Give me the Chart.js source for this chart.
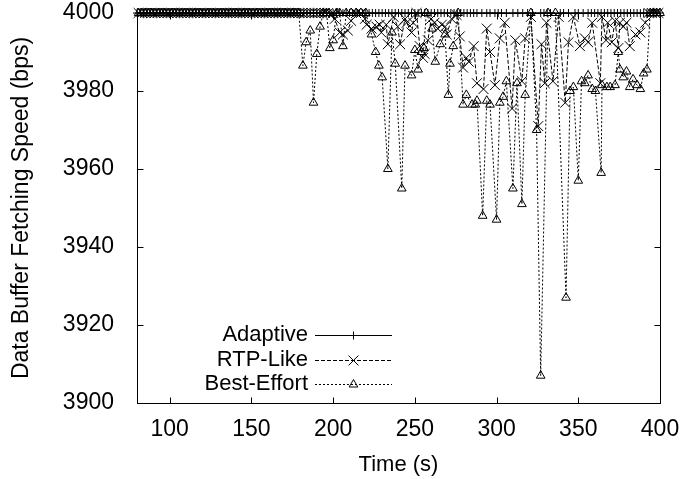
<!DOCTYPE html>
<html>
<head>
<meta charset="utf-8">
<title>Data Buffer Fetching Speed</title>
<script src="https://cdn.jsdelivr.net/npm/chart.js@4.4.1/dist/chart.umd.min.js"></script>
<style>
body{margin:0;background:#fff;}
#wrap{width:684px;height:479px;}
</style>
</head>
<body>
<div id="wrap"><canvas id="myChart" width="684" height="479"></canvas></div>
<script>
// tick labels
var xTicks = [100, 150, 200, 250, 300, 350, 400];
var yTicks = [3900, 3920, 3940, 3960, 3980, 4000];

var seriesNames = ["Adaptive", "RTP-Like", "Best-Effort"];

// Adaptive: stays at 4000 the whole run
var adaptiveTime = [
    80,82,84,86,88,90,92,94,96,98,
    100,102,104,106,108,110,112,114,116,118,
    120,122,124,126,128,130,132,134,136,138,
    140,142,144,146,148,150,152,154,156,158,
    160,162,164,166,168,170,172,174,176,178,
    180,182,184,186,188,190,192,194,196,198,
    200,202,204,206,208,210,212,214,216,218,
    220,222,224,226,228,230,232,234,236,238,
    240,242,244,246,248,250,252,254,256,258,
    260,262,264,266,268,270,272,274,276,278,
    280,282,284,286,288,291,294,296,299,301,
    303,306,310,313,316,319,322,327,329,331,
    333,339,341,344,348,350,353,356,358,360,
    362,364,366,368,370,372,374,376,378,380,
    382,384,386,388,390,392,394,396,398,400
];
var adaptiveSpeed = [
    4000,4000,4000,4000,4000,4000,4000,4000,4000,4000,
    4000,4000,4000,4000,4000,4000,4000,4000,4000,4000,
    4000,4000,4000,4000,4000,4000,4000,4000,4000,4000,
    4000,4000,4000,4000,4000,4000,4000,4000,4000,4000,
    4000,4000,4000,4000,4000,4000,4000,4000,4000,4000,
    4000,4000,4000,4000,4000,4000,4000,4000,4000,4000,
    4000,4000,4000,4000,4000,4000,4000,4000,4000,4000,
    4000,4000,4000,4000,4000,4000,4000,4000,4000,4000,
    4000,4000,4000,4000,4000,4000,4000,4000,4000,4000,
    4000,4000,4000,4000,4000,4000,4000,4000,4000,4000,
    4000,4000,4000,4000,4000,4000,4000,4000,4000,4000,
    4000,4000,4000,4000,4000,4000,4000,4000,4000,4000,
    4000,4000,4000,4000,4000,4000,4000,4000,4000,4000,
    4000,4000,4000,4000,4000,4000,4000,4000,4000,4000,
    4000,4000,4000,4000,4000,4000,4000,4000,4000,4000
];

// RTP-Like
var rtpTime = [
    81,83,85,87,89,91,93,95,97,99,
    101,103,105,107,109,111,113,115,117,119,
    121,123,125,127,129,131,133,135,137,139,
    141,143,145,147,149,151,153,155,157,159,
    161,163,165,167,169,171,173,175,177,179,
    181,183,185,187,189,191,193,195,197,
    200,201,204,206,209,211,214,217,219.5,220.5,
    223.5,226.5,228.5,229.5,232.5,233.5,237,239.5,241,244,
    245,248,249,251,253,255,256,258,260,262,
    264,266.5,268.5,269.5,272.5,275.5,277.5,279.5,281.5,283,
    286,288,292,294,296,299,302,305,309.5,311.5,
    315.5,317.5,321,325.5,327.5,329.5,330.5,334.5,338,342,
    344,347,351,354,356,358.5,363.5,364.5,367,368,
    370.5,372.5,374.5,375.5,377.5,379.5,381.5,385,388,391,
    393,395,397,399
];
var rtpSpeed = [
    4000,4000,4000,4000,4000,4000,4000,4000,4000,4000,
    4000,4000,4000,4000,4000,4000,4000,4000,4000,4000,
    4000,4000,4000,4000,4000,4000,4000,4000,4000,4000,
    4000,4000,4000,4000,4000,4000,4000,4000,4000,4000,
    4000,4000,4000,4000,4000,4000,4000,4000,4000,4000,
    4000,4000,4000,4000,4000,4000,4000,4000,4000,
    4000,3998.5,3995,3994.5,3995.5,3998,4000,4000,3998.5,3997,
    3996,3996.5,3997,3995,3997,3992,3999,3996.5,3992,3998.5,
    3997.5,3995,3997.5,4000,3991.5,3988.5,3989.5,3993,3998.5,3997.5,
    3996,3997,3996.5,3994.5,3998.5,3999.5,3994,3986,3988.5,3987.5,
    3991.5,3982,3980.5,3996,3990,3981.5,3993.5,3997.5,3975.5,3993,
    3982.5,3993.5,3999,3971,3992,3982,3997.5,3982.5,3999,3977,
    3992.5,3999,3991.5,3993.5,3992.5,3997.5,3982,3999,3993,3997.5,
    3992.5,3998,3991,3997.5,3996.5,3997.5,3991.5,3994.5,3995,3997.5,
    4000,4000,4000,4000
];

// Best-Effort
var bestTime = [
    81,83,85,87,89,91,93,95,97,99,
    101,103,105,107,109,111,113,115,117,119,
    121,123,125,127,129,131,133,135,137,139,
    141,143,145,147,149,151,153,155,157,159,
    161,163,165,167,169,171,173,175,177,179,
    181.5,183.5,186,188,190,192,194,196,198,200,
    202,204,206,208,211,214,217,220,223.5,226,
    228,230,233.5,236,238,242,244,248,250,252,
    254,255.5,257,260.5,262.5,265.5,268.5,270.5,271.5,273.5,
    276.5,279.5,281.5,285,287,288,291.5,294,296,300,
    302,304,306,310,312.5,315.5,317.5,321,324.5,327,
    331.5,336,342.5,345,347,350,352,354,356,358.5,
    360.5,364,364.5,367.5,369.5,372.5,374.5,375.5,377.5,379.5,
    381.5,383.5,386,388,390,392,394,396,398,400
];
var bestSpeed = [
    4000,4000,4000,4000,4000,4000,4000,4000,4000,4000,
    4000,4000,4000,4000,4000,4000,4000,4000,4000,4000,
    4000,4000,4000,4000,4000,4000,4000,4000,4000,4000,
    4000,4000,4000,4000,4000,4000,4000,4000,4000,4000,
    4000,4000,4000,4000,4000,4000,4000,4000,4000,4000,
    3986.5,3992.5,3995.5,3977,3989.5,3996.5,4000,4000,3991,3993,
    4000,4000,3991.5,4000,4000,4000,4000,4000,3994.5,3990,
    3986.5,3983.5,3960,3995,3987,3955,3986.5,3984,3990.5,3985.5,
    3990,3991,4000,3996,3987.5,3992,3994.5,3979,3987,3991.5,
    4000,3976.5,3979,3976.5,3976.5,3977.5,3948,3977.5,3976.5,3947,
    3977,3978.5,3982.5,3955,3982,3951,3979,4000,3970,3907,
    4000,4000,3927,3980,3981,3957,3982.5,3982,3984,3980.5,
    3980,3959,3981.5,3981,3981,3981.5,3990,3985.5,3983.5,3985,
    3981,3983,3981.5,3980.5,3984.5,3985.5,4000,4000,4000,4000
];

function toPoints(times, speeds){
    var pts = [];
    for (var i = 0; i < times.length; i++) {
        pts.push({x: times[i], y: speeds[i]});
    }
    return pts;
}

var FONT = '"Liberation Sans", Arial, Helvetica, sans-serif';
Chart.defaults.font.family = FONT;
Chart.defaults.color = '#000';

// gnuplot style border with inward ticks on all four sides
var frame = {
    id: 'frame',
    beforeDatasetsDraw: function(chart){
        var ctx = chart.ctx, a = chart.chartArea;
        var sx = chart.scales.x, sy = chart.scales.y;
        var L = Math.round(a.left) + 0.5, R = Math.round(a.right) + 0.5;
        var T = Math.round(a.top) + 0.5, B = Math.round(a.bottom) + 0.5;
        ctx.save();
        ctx.strokeStyle = '#000';
        ctx.lineWidth = 1;
        ctx.strokeRect(L, T, R - L, B - T);
        ctx.beginPath();
        xTicks.forEach(function(v){
            var px = Math.round(sx.getPixelForValue(v)) + 0.5;
            ctx.moveTo(px, B); ctx.lineTo(px, B - 6);
            ctx.moveTo(px, T); ctx.lineTo(px, T + 6);
        });
        yTicks.forEach(function(v){
            var py = Math.round(sy.getPixelForValue(v)) + 0.5;
            ctx.moveTo(L, py); ctx.lineTo(L + 6, py);
            ctx.moveTo(R, py); ctx.lineTo(R - 6, py);
        });
        ctx.stroke();
        ctx.restore();
    }
};

// key inside the plot, text on the left, sample on the right
var key = {
    id: 'key',
    afterDraw: function(chart){
        var ctx = chart.ctx;
        ctx.save();
        ctx.font = '22px ' + FONT;
        ctx.textAlign = 'right';
        ctx.textBaseline = 'middle';
        ctx.strokeStyle = '#000';
        ctx.lineWidth = 1;
        chart.data.datasets.forEach(function(ds, i){
            var rowY = 335 + i * 24.5;
            ctx.fillStyle = '#000';
            ctx.fillText(ds.label, 308, rowY);
            var ly = Math.round(rowY) + 0.5;
            ctx.setLineDash(ds.borderDash || []);
            ctx.beginPath();
            ctx.moveTo(315, ly);
            ctx.lineTo(392, ly);
            ctx.stroke();
            ctx.setLineDash([]);
            ctx.fillStyle = 'rgba(0,0,0,0)';
            if (Chart.helpers && Chart.helpers.drawPoint) {
                Chart.helpers.drawPoint(ctx, {pointStyle: ds.pointStyle, radius: ds.pointRadius, borderWidth: 1, rotation: 0}, 353.5, ly);
            }
        });
        ctx.restore();
    }
};

var ctx = document.getElementById("myChart");
var myChart = new Chart(ctx, {
    type: 'scatter',
    data: {
        datasets: [{
            label: seriesNames[0],
            data: toPoints(adaptiveTime, adaptiveSpeed),
            showLine: true,
            borderColor: '#000',
            borderWidth: 1,
            pointStyle: 'cross',
            pointRadius: 4,
            pointBorderColor: '#000',
            pointBorderWidth: 1,
            clip: false,
            order: 3
        }, {
            label: seriesNames[1],
            data: toPoints(rtpTime, rtpSpeed),
            showLine: true,
            borderColor: '#000',
            borderWidth: 1,
            borderDash: [4, 2],
            pointStyle: 'crossRot',
            pointRadius: 7,
            pointBorderColor: '#000',
            pointBorderWidth: 1,
            clip: false,
            order: 2
        }, {
            label: seriesNames[2],
            data: toPoints(bestTime, bestSpeed),
            showLine: true,
            borderColor: '#000',
            borderWidth: 1,
            borderDash: [2, 2],
            pointStyle: 'triangle',
            pointRadius: 5,
            pointBackgroundColor: 'rgba(255,255,255,0)',
            pointBorderColor: '#000',
            pointBorderWidth: 1,
            clip: false,
            order: 1
        }]
    },
    options: {
        responsive: false,
        animation: false,
        devicePixelRatio: 1,
        layout: {padding: {left: 0, right: 24, top: 13, bottom: 0}},
        plugins: {
            legend: {display: false},
            tooltip: {enabled: false}
        },
        scales: {
            x: {
                type: 'linear',
                min: 80,
                max: 400,
                afterBuildTicks: function(s){ s.ticks = xTicks.map(function(v){ return {value: v}; }); },
                afterFit: function(s){ s.height = 76; s.paddingLeft = 0; s.paddingRight = 0; },
                grid: {display: false},
                border: {display: false},
                ticks: {
                    font: {size: 23}, color: '#000', padding: 5, maxRotation: 0, autoSkip: false,
                    callback: function(v){ return String(v); }
                },
                title: {display: true, text: 'Time (s)', font: {size: 22}, color: '#000', padding: {top: 0, bottom: 1}}
            },
            y: {
                type: 'linear',
                min: 3900,
                max: 4000,
                afterBuildTicks: function(s){ s.ticks = yTicks.map(function(v){ return {value: v}; }); },
                afterFit: function(s){ s.width = 137; s.paddingTop = 0; s.paddingBottom = 0; },
                grid: {display: false},
                border: {display: false},
                ticks: {
                    font: {size: 23}, color: '#000', padding: 15, autoSkip: false,
                    callback: function(v){ return String(v); }
                },
                title: {display: true, text: 'Data Buffer Fetching Speed (bps)', font: {size: 23}, color: '#000', padding: {top: 8, bottom: 0}}
            }
        }
    },
    plugins: [frame, key]
});
</script>
</body>
</html>
